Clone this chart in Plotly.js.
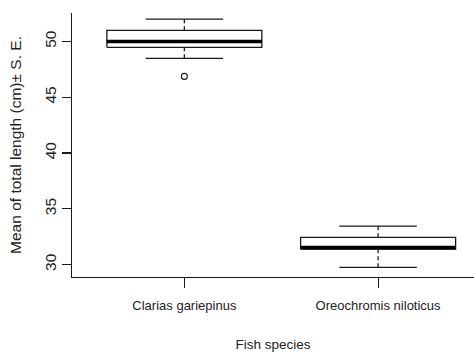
<!DOCTYPE html>
<html>
<head>
<meta charset="utf-8">
<script src="https://cdn.plot.ly/plotly-3.0.1.min.js"></script>
<style>html,body{margin:0;padding:0;background:#fff;overflow:hidden;}#chart{width:474px;height:352px;}</style>
</head>
<body>
<div id="chart"></div>
<script>
// Data
const categories = ["Clarias gariepinus", "Oreochromis niloticus"];
const upperWhisker = [52.0, 33.45];
const q3 = [51.0, 32.45];
const median = [50.0, 31.52];
const q1 = [49.47, 31.38];
const lowerWhisker = [48.48, 29.75];
const outliers = [[46.87], []];
const yTicks = [30, 35, 40, 45, 50];

const ink = "#1a1a1a";
const boxHalf = 0.4, capHalf = 0.2;
const traces = [];

categories.forEach((c, i) => {
  const x = i + 1;
  traces.push({
    type: "scatter", mode: "lines", hoverinfo: "skip", showlegend: false,
    x: [x - boxHalf, x + boxHalf, x + boxHalf, x - boxHalf, x - boxHalf],
    y: [q1[i], q1[i], q3[i], q3[i], q1[i]],
    fill: "toself", fillcolor: "#ffffff",
    line: {color: ink, width: 1.3}
  });
  traces.push({
    type: "scatter", mode: "lines", hoverinfo: "skip", showlegend: false,
    x: [x, x, null, x, x],
    y: [q3[i], upperWhisker[i], null, q1[i], lowerWhisker[i]],
    line: {color: ink, width: 1.3, dash: "4px,3px"}
  });
  traces.push({
    type: "scatter", mode: "lines", hoverinfo: "skip", showlegend: false,
    x: [x - capHalf, x + capHalf, null, x - capHalf, x + capHalf],
    y: [upperWhisker[i], upperWhisker[i], null, lowerWhisker[i], lowerWhisker[i]],
    line: {color: ink, width: 1.3}
  });
  traces.push({
    type: "scatter", mode: "lines", hoverinfo: "skip", showlegend: false,
    x: [x - boxHalf, x + boxHalf],
    y: [median[i], median[i]],
    line: {color: "#000", width: 3.6}
  });
  if (outliers[i].length) {
    traces.push({
      type: "scatter", mode: "markers", showlegend: false,
      x: outliers[i].map(() => x), y: outliers[i],
      marker: {symbol: "circle-open", size: 6, color: ink, line: {width: 1.1, color: ink}}
    });
  }
});

const sans = "Arial, 'Liberation Sans', sans-serif";
const layout = {
  width: 474, height: 352,
  margin: {l: 72, r: 0, t: 13, b: 75},
  paper_bgcolor: "#fff", plot_bgcolor: "#fff",
  showlegend: false,
  font: {family: sans, color: "#222"},
  xaxis: {
    range: [0.42, 2.495],
    tickvals: categories.map((c, i) => i + 1),
    ticktext: categories,
    showgrid: false, zeroline: false,
    showline: true, linecolor: ink, linewidth: 1.2,
    ticks: "outside", ticklen: 10, tickwidth: 1.2, tickcolor: ink,
    ticklabelstandoff: 6,
    tickfont: {family: sans, size: 13, color: "#222"},
    title: {text: "Fish species", standoff: 31,
      font: {family: sans, size: 13.5, color: "#222"}},
    automargin: false, fixedrange: true
  },
  yaxis: {
    range: [28.89, 52.55],
    tickvals: yTicks,
    ticktext: yTicks.map(String),
    tickangle: -90,
    showgrid: false, zeroline: false,
    showline: true, linecolor: ink, linewidth: 1.2,
    ticks: "outside", ticklen: 9, tickwidth: 1.2, tickcolor: ink,
    tickfont: {family: sans, size: 15.5, color: "#222"},
    title: {text: "Mean of total length (cm)± S. E.", standoff: 16,
      font: {family: sans, size: 15.5, color: "#222"}},
    automargin: false, fixedrange: true
  }
};

Plotly.newPlot("chart", traces, layout, {displayModeBar: false, staticPlot: true});
</script>
</body>
</html>
